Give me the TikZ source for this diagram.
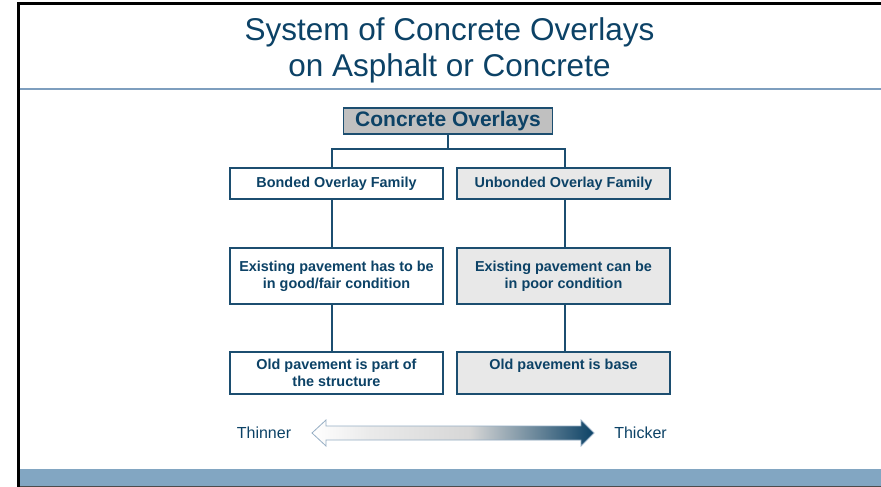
\documentclass[tikz,border=0pt]{standalone}
\usepackage{fontspec}
\setmainfont{Liberation Sans}
\usetikzlibrary{calc}
\definecolor{ink}{RGB}{12,66,102}
\definecolor{rule}{RGB}{28,78,112}
\definecolor{sepline}{RGB}{126,158,190}
\definecolor{band}{RGB}{130,166,194}
\definecolor{boxgray}{RGB}{192,192,192}
\definecolor{boxlight}{RGB}{232,232,232}
\definecolor{arrowedge}{RGB}{150,174,196}
% left-to-right fill of the thickness scale (inner 25bp..75bp span the arrow)
\pgfdeclarehorizontalshading{thickshade}{100bp}{color(0bp)=(white); color(25bp)=(white); color(35bp)=(white!92!black); color(53bp)=(white!84!black); color(75bp)=(ink); color(100bp)=(ink)}
\begin{document}
\begin{tikzpicture}[x=1pt,y=-1pt,
  box/.style={draw=rule,line width=1.4pt,inner sep=0pt,align=center,text=ink,
    font=\bfseries\fontsize{14.4}{17}\selectfont},
  wbox/.style={box,fill=white,minimum width=213pt},
  gbox/.style={box,fill=boxlight,minimum width=213pt},
  link/.style={draw=rule,line width=2pt},
  side/.style={text=ink,font=\fontsize{16}{19}\selectfont,inner sep=0pt},
  head/.style={text=ink,font=\fontsize{31.5}{36}\selectfont,inner sep=0pt,anchor=base}]
\useasboundingbox (0,0) rectangle (881,487);
\fill[white] (0,0) rectangle (881,487);

% slide frame, header rule and footer band
\fill[black] (17,2.5) rectangle (881,5);
\fill[black] (17,2.5) rectangle (19.5,487);
\draw[sepline,line width=1.2pt] (19.5,89) -- (881,89);
\fill[band] (19.5,469) rectangle (881,487);
\fill[black!70] (19.5,486) rectangle (881,487);

% title
\node[head] (title) at (449.5,41) {System of Concrete Overlays};
\node[head] (subtitle) at (449.5,77) {on Asphalt or Concrete};

% boxes
\node[box,fill=boxgray,minimum width=209pt,minimum height=26pt,
  font=\bfseries\fontsize{21}{24}\selectfont] (top) at (448,121) {Concrete Overlays};
\node[wbox,minimum height=31pt] (bonded) at (336.5,183.5) {Bonded Overlay Family};
\node[gbox,minimum height=31pt] (unbonded) at (563.5,183.5) {Unbonded Overlay Family};
\node[wbox,minimum height=56pt] (goodcond) at (336.5,276) {Existing pavement has to be\\in good/fair condition};
\node[gbox,minimum height=56pt] (poorcond) at (563.5,276) {Existing pavement can be\\in poor condition};
\node[wbox,minimum height=42pt] (partof) at (336.5,373) {Old pavement is part of\\the structure};
\node[gbox,minimum height=42pt] (isbase) at (563.5,373) {Old pavement is base\\\mbox{}};

% connectors
\coordinate (lx) at (332,149);
\coordinate (rx) at (565,149);
\draw[link] (top.south) -- (top.south |- lx);
\draw[link] (bonded.north -| lx) -- (lx) -- (rx) -- (unbonded.north -| rx);
\draw[link] (bonded.south -| lx) -- (goodcond.north -| lx);
\draw[link] (goodcond.south -| lx) -- (partof.north -| lx);
\draw[link] (unbonded.south -| rx) -- (poorcond.north -| rx);
\draw[link] (poorcond.south -| rx) -- (isbase.north -| rx);

% thickness scale
\node[side] (thin) at (264,433) {Thinner};
\node[side] (thick) at (640.5,433) {Thicker};
\coordinate (arL) at (312,433);
\coordinate (arR) at (594,433);
\draw[arrowedge,line width=0.8pt,shading=thickshade]
  (arL) -- ++(14,-13) -- ++(0,6) -- ++(255,0) -- ++(0,-6) -- (arR)
  -- ++(-13,13) -- ++(0,-6) -- ++(-255,0) -- ++(0,6) -- cycle;
\end{tikzpicture}
\end{document}
